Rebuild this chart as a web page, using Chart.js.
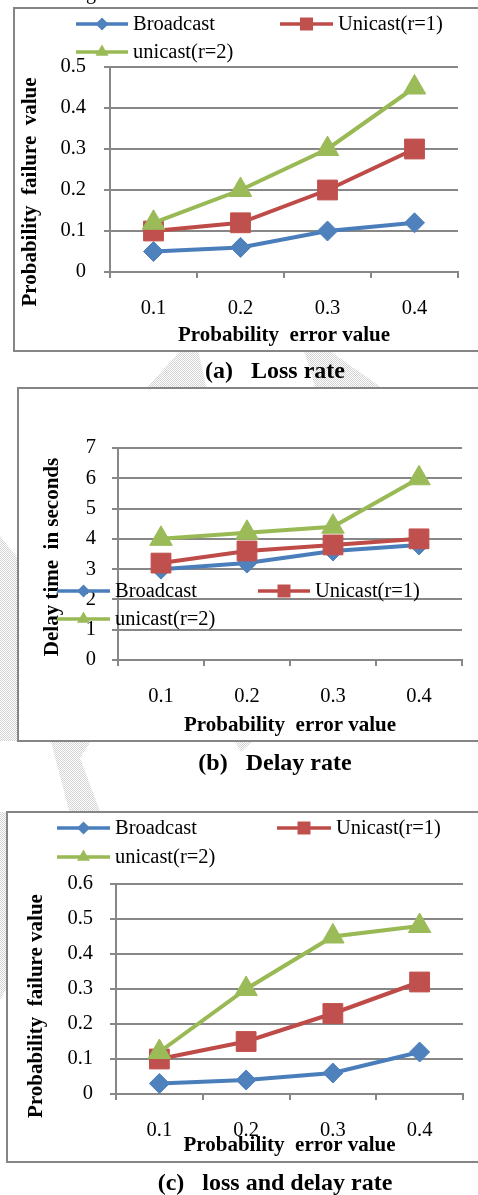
<!DOCTYPE html>
<html>
<head>
<meta charset="utf-8">
<script src="https://cdn.jsdelivr.net/npm/chart.js@4.4.0/dist/chart.umd.min.js"></script>
<style>
  body { margin: 0; background: #fff; width: 478px; height: 1195px; position: relative; overflow: hidden; }
  canvas, svg { position: absolute; left: 0; }
</style>
</head>
<body>
<!-- faint watermark of the source page, behind the charts -->
<svg width="478" height="1195" style="top:0">
  <defs>
    <pattern id="dots" width="2" height="2" patternUnits="userSpaceOnUse">
      <rect x="0" y="0" width="1" height="1" fill="#d2d2d2"></rect>
      <rect x="1" y="1" width="1" height="1" fill="#d2d2d2"></rect>
    </pattern>
  </defs>
  <g fill="url(#dots)">
    <polygon points="186,345 197,345 208,395 140,395"></polygon>
    <polygon points="302,345 321,345 392,395 318,395"></polygon>
    <polygon points="0,536 19,560 19,741 0,741"></polygon>
    <polygon points="50,738 93,738 80,758 101,814 70,814"></polygon>
    <polygon points="234,740 254,740 241,752"></polygon>
    <polygon points="0,812 8,812 8,985 0,1000"></polygon>
  </g>
</svg>
<canvas id="chart-a" width="478" height="385" style="top:0px"></canvas>
<canvas id="chart-b" width="478" height="400" style="top:380px"></canvas>
<canvas id="chart-c" width="478" height="405" style="top:790px"></canvas>
<script>
// data
const categories = ['0.1', '0.2', '0.3', '0.4'];
const seriesNames = ['Broadcast', 'Unicast(r=1)', 'unicast(r=2)'];

// (a) loss rate
const lossBroadcast = [0.05, 0.06, 0.10, 0.12];
const lossUnicast1 = [0.10, 0.12, 0.20, 0.30];
const lossUnicast2 = [0.12, 0.20, 0.30, 0.45];
const lossTicks = [0, 0.1, 0.2, 0.3, 0.4, 0.5];

// (b) delay rate
const delayBroadcast = [3.0, 3.2, 3.6, 3.8];
const delayUnicast1 = [3.2, 3.6, 3.8, 4.0];
const delayUnicast2 = [4.0, 4.2, 4.4, 6.0];
const delayTicks = [0, 1, 2, 3, 4, 5, 6, 7];

// (c) loss and delay rate
const bothBroadcast = [0.03, 0.04, 0.06, 0.12];
const bothUnicast1 = [0.10, 0.15, 0.23, 0.32];
const bothUnicast2 = [0.12, 0.30, 0.45, 0.48];
const bothTicks = [0, 0.1, 0.2, 0.3, 0.4, 0.5, 0.6];

const serif = "'Liberation Serif', 'Times New Roman', serif";
const gridGray = '#878787';
const looks = [
  { line: '#4A7EBB', fill: '#4F81BD', style: 'rectRot', r: 10, lr: 6.5 },
  { line: '#BE4B48', fill: '#C0504D', style: 'rect', r: 14, lr: 6.5 },
  { line: '#98B954', fill: '#9BBB59', style: 'triangle', r: 13, lr: 7.5 }
];

function marker(ctx, style, x, y, r) {
  ctx.beginPath();
  if (style === 'rectRot') {
    ctx.moveTo(x, y - r); ctx.lineTo(x + r, y); ctx.lineTo(x, y + r); ctx.lineTo(x - r, y);
  } else if (style === 'rect') {
    ctx.rect(x - r, y - r, 2 * r, 2 * r);
  } else {
    ctx.moveTo(x, y - r);
    ctx.lineTo(x + r * 0.866, y + r / 2);
    ctx.lineTo(x - r * 0.866, y + r / 2);
  }
  ctx.closePath();
  ctx.fill();
}

// frame, legend, rotated y title and caption
const decor = {
  id: 'decor',
  beforeDraw(chart, args, o) {
    const ctx = chart.ctx;
    ctx.save();
    ctx.fillStyle = '#fff';
    ctx.fillRect(o.frame[0], o.frame[1], o.frame[2], o.frame[3]);
    ctx.strokeStyle = '#858585';
    ctx.lineWidth = 2;
    ctx.strokeRect(o.frame[0], o.frame[1], o.frame[2], o.frame[3]);
    ctx.restore();
  },
  afterDraw(chart, args, o) {
    const ctx = chart.ctx;
    ctx.save();
    ctx.fillStyle = '#000';
    ctx.font = 'bold 21px ' + serif;
    ctx.textAlign = 'center';
    ctx.textBaseline = 'middle';
    ctx.translate(o.yTitle.x, o.yTitle.y);
    ctx.rotate(-Math.PI / 2);
    ctx.fillText(o.yTitle.text, 0, 0);
    ctx.restore();

    ctx.save();
    o.legend.forEach((item, i) => {
      const lk = looks[i];
      ctx.strokeStyle = lk.line;
      ctx.lineWidth = 3.5;
      ctx.beginPath();
      ctx.moveTo(item.x0, item.y);
      ctx.lineTo(item.x1, item.y);
      ctx.stroke();
      ctx.fillStyle = lk.fill;
      marker(ctx, lk.style, (item.x0 + item.x1) / 2, item.y, lk.lr);
      ctx.fillStyle = '#000';
      ctx.font = '20.5px ' + serif;
      ctx.textAlign = 'left';
      ctx.textBaseline = 'middle';
      ctx.fillText(chart.data.datasets[i].label, item.x1 + 5, item.y + 1);
    });
    ctx.fillStyle = '#000';
    ctx.font = 'bold 24px ' + serif;
    ctx.textAlign = 'center';
    ctx.textBaseline = 'alphabetic';
    ctx.fillText(o.caption.text, o.caption.x, o.caption.y);
    if (o.extra) {
      ctx.font = '20px ' + serif;
      ctx.textAlign = 'left';
      ctx.fillText(o.extra.text, o.extra.x, o.extra.y);
    }
    ctx.restore();
  }
};

function makeChart(id, values, yTicks, box, deco) {
  const datasets = values.map((vals, i) => ({
    label: seriesNames[i],
    data: vals,
    order: 3 - i,
    borderColor: looks[i].line,
    backgroundColor: looks[i].fill,
    borderWidth: 4,
    pointStyle: looks[i].style,
    pointRadius: looks[i].r,
    pointBackgroundColor: looks[i].fill,
    pointBorderColor: looks[i].fill,
    pointBorderWidth: 1,
    tension: 0
  }));
  return new Chart(document.getElementById(id).getContext('2d'), {
    type: 'line',
    data: { labels: categories, datasets: datasets },
    plugins: [decor],
    options: {
      responsive: false,
      animation: false,
      events: [],
      layout: { padding: { top: box.top, right: box.right, bottom: box.bottom, left: 0 } },
      scales: {
        x: {
          offset: true,
          afterFit: s => { s.height = box.xHeight; },
          grid: { drawOnChartArea: false, drawTicks: true, tickLength: 6, offset: true, color: gridGray, lineWidth: 2 },
          border: { display: true, color: gridGray, width: 2 },
          ticks: { color: '#000', padding: 18, font: { family: serif, size: 20.5 } },
          title: {
            display: true, text: 'Probability  error value', color: '#000',
            padding: { top: 0, bottom: 0 },
            font: { family: serif, size: 21, weight: 'bold' }
          }
        },
        y: {
          min: yTicks[0],
          max: yTicks[yTicks.length - 1],
          afterFit: s => { s.width = box.yWidth; },
          afterBuildTicks: s => { s.ticks = yTicks.map(v => ({ value: v })); },
          grid: { color: gridGray, lineWidth: 2, tickLength: 6, drawTicks: true },
          border: { display: true, color: gridGray, width: 2 },
          ticks: { color: '#000', padding: box.yPad, font: { family: serif, size: 20.5 }, callback: v => String(v) }
        }
      },
      plugins: { legend: { display: false }, tooltip: { enabled: false }, decor: deco }
    }
  });
}

makeChart('chart-a', [lossBroadcast, lossUnicast1, lossUnicast2], lossTicks,
  { top: 67, right: 20, bottom: 385 - 272 - 76.6, xHeight: 76.6, yWidth: 110, yPad: 18 },
  {
    frame: [14, 8, 480, 343],
    yTitle: { text: 'Probability  failure  value', x: 31, y: 192 },
    legend: [{ x0: 76, x1: 128, y: 24 }, { x0: 280, x1: 333, y: 24 }, { x0: 76, x1: 128, y: 52 }],
    caption: { text: '(a)   Loss rate', x: 275, y: 378 },
    extra: { text: 'g', x: 86, y: -1 }
  });

makeChart('chart-b', [delayBroadcast, delayUnicast1, delayUnicast2], delayTicks,
  { top: 68, right: 16, bottom: 400 - 280 - 78.6, xHeight: 78.6, yWidth: 118, yPad: 16 },
  {
    frame: [18, 8, 480, 353],
    yTitle: { text: 'Delay time  in seconds', x: 53, y: 177 },
    legend: [{ x0: 57, x1: 110, y: 211 }, { x0: 258, x1: 310, y: 211 }, { x0: 57, x1: 110, y: 239 }],
    caption: { text: '(b)   Delay rate', x: 275, y: 390 }
  });

makeChart('chart-c', [bothBroadcast, bothUnicast1, bothUnicast2], bothTicks,
  { top: 94, right: 5, bottom: 405 - 304 - 64.6, xHeight: 64.6, yWidth: 116, yPad: 17 },
  {
    frame: [7, 22, 480, 350],
    yTitle: { text: 'Probability  failure value', x: 37, y: 216 },
    legend: [{ x0: 57, x1: 110, y: 38 }, { x0: 277, x1: 331, y: 38 }, { x0: 57, x1: 110, y: 67 }],
    caption: { text: '(c)   loss and delay rate', x: 275, y: 400 }
  });
</script>
</body>
</html>
